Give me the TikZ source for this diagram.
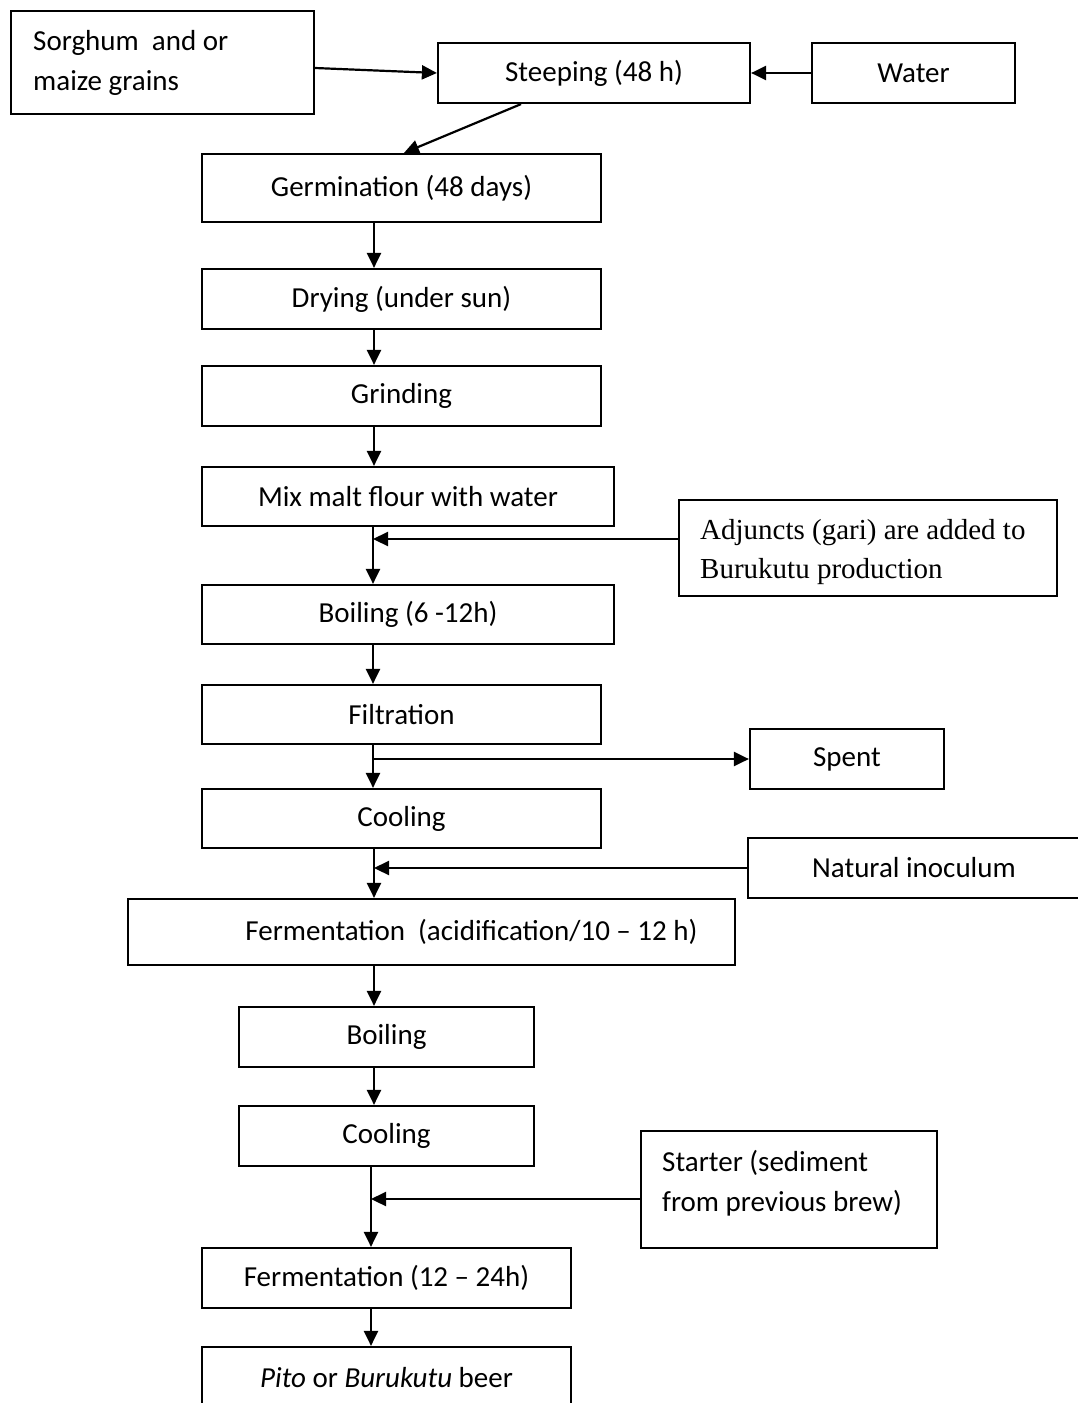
\documentclass[tikz,border=0pt]{standalone}
\usepackage{fontspec}
\setmainfont{Carlito}
\newfontfamily\tnr{Liberation Serif}
\usetikzlibrary{arrows.meta}
\begin{document}
\begin{tikzpicture}[x=1pt,y=1pt,
  box/.style={draw, line width=2.2pt, inner sep=0pt, font=\fontsize{29}{40}\selectfont, align=center},
  arr/.style={line width=2.2pt, -{Triangle[length=15pt,width=14pt]}}]
\useasboundingbox (0,0) rectangle (1078,-1403);
\clip (0,0) rectangle (1078,-1403);
\coordinate (colA) at (374,0);
\coordinate (colB) at (373,0);
\coordinate (colC) at (371,0);
\coordinate (dA) at (521,0);
\coordinate (dB) at (404,0);
\coordinate (rA) at (0,-68);
\coordinate (rB) at (0,-539);
\coordinate (rC) at (0,-1199);

\node[box, minimum width=303pt, minimum height=103pt] (sorghum) at (162.5,-62.5) {};
\node[font=\fontsize{29}{40}\selectfont, align=left, inner sep=0pt, anchor=west] (sorghumtext) at (33,-63) {Sorghum \ and or\\maize grains};
\node[box, minimum width=312pt, minimum height=60pt] (steep) at (594,-73) {Steeping (48 h)};
\node[box, minimum width=203pt, minimum height=60pt] (water) at (913.5,-73) {Water};
\node[box, minimum width=399pt, minimum height=68pt] (germ) at (401.5,-188) {Germination (48 days)};
\node[box, minimum width=399pt, minimum height=60pt] (dry) at (401.5,-299) {Drying (under sun)};
\node[box, minimum width=399pt, minimum height=60pt] (grind) at (401.5,-396) {Grinding};
\node[box, minimum width=412pt, minimum height=59pt] (mix) at (408,-496.5) {Mix malt flour with water};
\node[box, minimum width=378pt, minimum height=96pt] (adj) at (868,-548) {};
\node[font=\tnr\fontsize{29}{39}\selectfont, align=left, inner sep=0pt, anchor=west] (adjtext) at (700,-552) {Adjuncts (gari) are added to\\Burukutu production};
\node[box, minimum width=412pt, minimum height=59pt] (boil1) at (408,-614.5) {Boiling (6 -12h)};
\node[box, minimum width=399pt, minimum height=59pt] (filt) at (401.5,-714.5) {Filtration};
\node[box, minimum width=194pt, minimum height=60pt] (spent) at (847,-759) {Spent};
\node[box, minimum width=399pt, minimum height=59pt] (cool1) at (401.5,-818.5) {Cooling};
\node[box, minimum width=332pt, minimum height=60pt] (nat) at (914,-868) {Natural inoculum};
\node[box, minimum width=607pt, minimum height=66pt] (ferm1) at (431.5,-932) {\hspace*{80pt}Fermentation ~(acidification/10 – 12 h)};
\node[box, minimum width=295pt, minimum height=60pt] (boil2) at (386.5,-1037) {Boiling};
\node[box, minimum width=295pt, minimum height=60pt] (cool2) at (386.5,-1136) {Cooling};
\node[box, minimum width=296pt, minimum height=117pt] (starter) at (789,-1189.5) {};
\node[font=\fontsize{29}{40}\selectfont, align=left, inner sep=0pt, anchor=west] (startertext) at (662,-1183) {Starter (sediment\\from previous brew)};
\node[box, minimum width=369pt, minimum height=60pt] (ferm2) at (386.5,-1278) {Fermentation (12 – 24h)};
\node[box, minimum width=369pt, minimum height=61pt] (pito) at (386.5,-1377.5) {\textit{Pito} or \textit{Burukutu} beer};

\draw[arr] (sorghum.east |- rA) -- (steep.west);
\draw[arr] (water.west) -- (steep.east);
\draw[arr] (steep.south -| dA) -- (germ.north -| dB);
\draw[arr] (germ.south -| colA) -- (dry.north -| colA);
\draw[arr] (dry.south -| colA) -- (grind.north -| colA);
\draw[arr] (grind.south -| colA) -- (mix.north -| colA);
\draw[arr] (mix.south -| colB) -- (boil1.north -| colB);
\draw[arr] (adj.west |- rB) -- (colB |- rB);
\draw[arr] (boil1.south -| colB) -- (filt.north -| colB);
\draw[arr] (filt.south -| colB) -- (cool1.north -| colB);
\draw[arr] (colB |- spent.west) -- (spent.west);
\draw[arr] (cool1.south -| colA) -- (ferm1.north -| colA);
\draw[arr] (nat.west) -- (colA |- nat.west);
\draw[arr] (ferm1.south -| colA) -- (boil2.north -| colA);
\draw[arr] (boil2.south -| colA) -- (cool2.north -| colA);
\draw[arr] (cool2.south -| colC) -- (ferm2.north -| colC);
\draw[arr] (starter.west |- rC) -- (colC |- rC);
\draw[arr] (ferm2.south -| colC) -- (pito.north -| colC);
\end{tikzpicture}
\end{document}
